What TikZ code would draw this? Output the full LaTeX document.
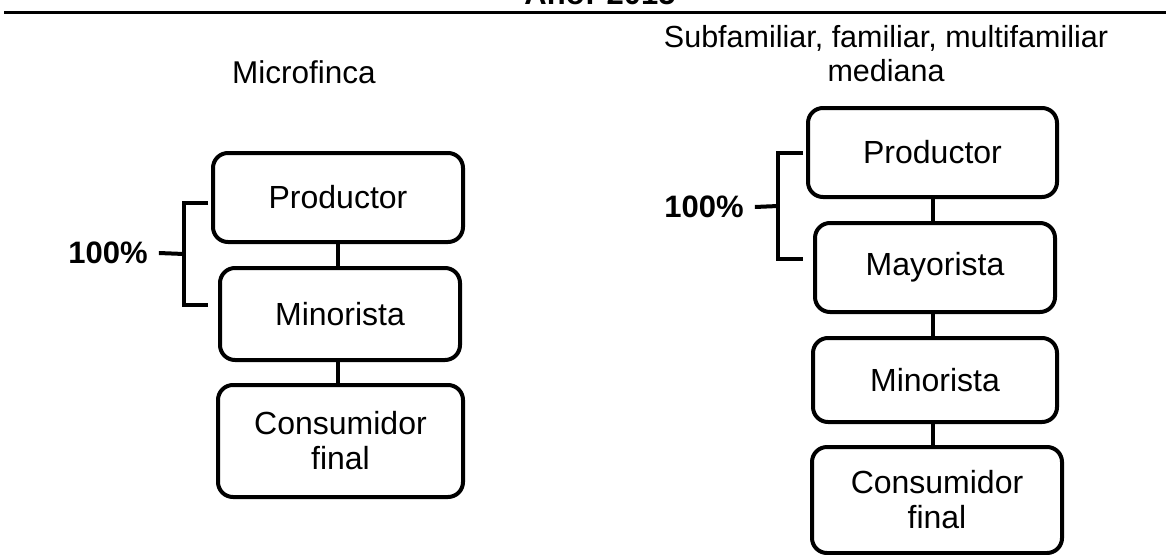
\documentclass[tikz,border=0pt]{standalone}
\usepackage{fontspec}
\setmainfont{Liberation Sans}
\begin{document}
\begin{tikzpicture}[x=1pt, y=-1pt,
  every node/.style={font=\fontsize{30.5}{35}\selectfont},
  box/.style={draw, line width=4pt, rounded corners=15pt, align=center, inner sep=0pt,
    font=\fontsize{32}{35}\selectfont},
  link/.style={line width=4pt},
  brace/.style={line width=4pt},
  pct/.style={font=\fontsize{31}{35}\selectfont\bfseries, inner xsep=11pt, inner ysep=0pt}]
\useasboundingbox (0,0) rectangle (1166,554);

% header, cut at the top
\node[anchor=base, font=\fontsize{31}{35}\selectfont\bfseries] (year) at (600,5) {Año: 2015};
\draw[line width=3pt] (4,12) -- (1166,12);

% Microfinca
\node[anchor=base, font=\fontsize{31.5}{35}\selectfont] (titleA) at (304,83) {Microfinca};
\node[box, minimum width=250pt, minimum height=89pt] (prodA) at (338,197.5) {Productor};
\node[box, minimum width=240pt, minimum height=92pt] (minA) at (340,314) {Minorista};
\node[box, minimum width=245pt, minimum height=112pt] (consA) at (340.5,441) {Consumidor\\final};
\draw[link] (prodA.south) -- (prodA.south |- minA.north);
\draw[link] (prodA.south |- minA.south) -- (prodA.south |- consA.north);

\node[pct] (pctA) at (108,253) {100\%};
\coordinate (bA) at (184,254);
\draw[brace] (208,203) -| (bA) |- (208,305);
\draw[brace] (pctA.east) -- (bA);

% Subfamiliar, familiar, multifamiliar mediana
\node[align=center, inner sep=0pt, font=\fontsize{30.5}{34}\selectfont] (titleB) at (886,54) {Subfamiliar, familiar, multifamiliar\\mediana};
\node[box, minimum width=249pt, minimum height=89pt] (prodB) at (932.5,152.5) {Productor};
\node[box, minimum width=240pt, minimum height=89pt] (mayB) at (935,267.5) {Mayorista};
\node[box, minimum width=244pt, minimum height=84pt] (minB) at (935,380) {Minorista};
\node[box, minimum width=250pt, minimum height=106pt] (consB) at (937,500) {Consumidor\\final};
\draw[link] (prodB.south) -- (prodB.south |- mayB.north);
\draw[link] (prodB.south |- mayB.south) -- (prodB.south |- minB.north);
\draw[link] (prodB.south |- minB.south) -- (prodB.south |- consB.north);

\node[pct] (pctB) at (704,207) {100\%};
\coordinate (bB) at (778,206);
\draw[brace] (803,153) -| (bB) |- (803,259);
\draw[brace] (pctB.east) -- (bB);
\end{tikzpicture}
\end{document}
